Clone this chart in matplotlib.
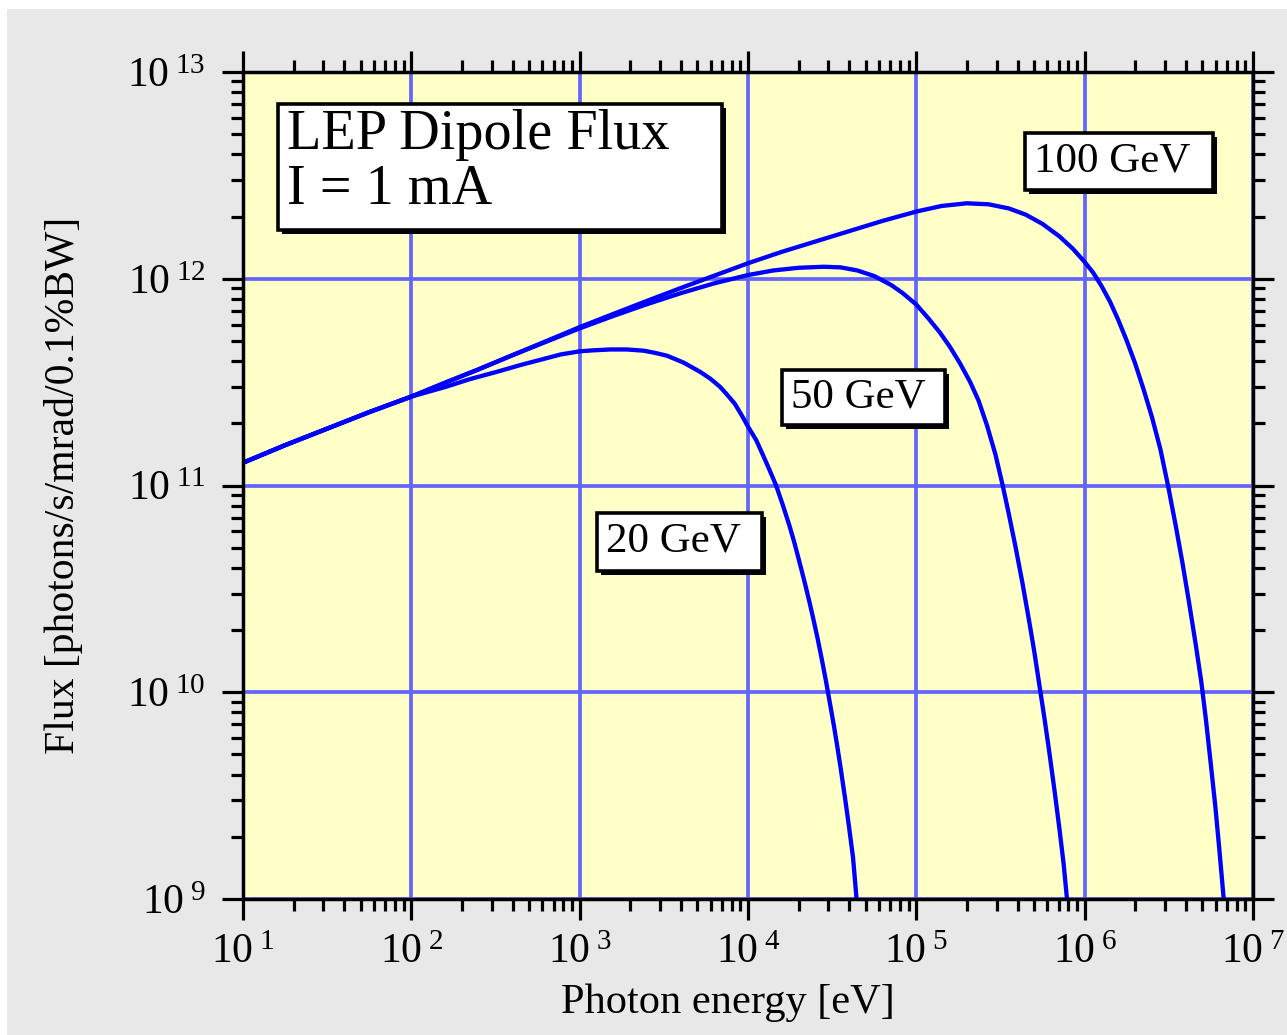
import numpy as np
import matplotlib
matplotlib.use("Agg")
import matplotlib.pyplot as plt
from matplotlib.patches import Rectangle
from matplotlib.ticker import LogLocator, FuncFormatter, NullFormatter

# values: log10(photon energy [eV]) and log10(flux)
logE_100 = [1.0, 1.25, 1.5, 1.75, 2.0, 2.2, 2.4, 2.6, 2.8, 3.0, 3.2, 3.4, 3.6, 3.8,
            4.0, 4.2, 4.4, 4.6, 4.8, 5.0, 5.15, 5.3, 5.43, 5.55, 5.65, 5.75, 5.85,
            5.93, 6.0, 6.05, 6.1, 6.15, 6.2, 6.25, 6.3, 6.35, 6.4, 6.45, 6.495,
            6.54, 6.58, 6.62, 6.66, 6.693, 6.72, 6.747, 6.776, 6.80, 6.826]
logF_100 = [11.11, 11.195, 11.275, 11.355, 11.43, 11.497, 11.562, 11.63, 11.698,
            11.766, 11.83, 11.893, 11.955, 12.015, 12.075, 12.13, 12.18, 12.23,
            12.28, 12.325, 12.352, 12.365, 12.36, 12.34, 12.31, 12.265, 12.205,
            12.145, 12.081, 12.03, 11.965, 11.89, 11.80, 11.70, 11.59, 11.465, 11.33,
            11.175, 11.0, 10.81, 10.63, 10.435, 10.23, 10.05, 9.87, 9.67, 9.45, 9.24,
            9.0]

logE_50 = [1.0, 1.25, 1.5, 1.75, 2.0, 2.2, 2.4, 2.6, 2.8, 3.0, 3.2, 3.4, 3.6, 3.8,
           4.0, 4.15, 4.3, 4.45, 4.55, 4.65, 4.75, 4.85, 4.92, 5.0, 5.07, 5.14, 5.2,
           5.26, 5.32, 5.37, 5.42, 5.47, 5.513, 5.55, 5.59, 5.63, 5.67, 5.70, 5.73,
           5.76, 5.79, 5.82, 5.85, 5.875, 5.895]
logF_50 = [11.11, 11.195, 11.275, 11.355, 11.43, 11.497, 11.562, 11.63, 11.695,
           11.76, 11.82, 11.877, 11.93, 11.978, 12.018, 12.04, 12.053, 12.058, 12.055,
           12.04, 12.013, 11.97, 11.93, 11.875, 11.81, 11.74, 11.67, 11.59, 11.50,
           11.41, 11.29, 11.15, 11.0, 10.86, 10.70, 10.53, 10.345, 10.2, 10.04,
           9.88, 9.71, 9.53, 9.34, 9.17, 9.0]

logE_20 = [1.0, 1.25, 1.5, 1.75, 2.0, 2.2, 2.35, 2.5, 2.65, 2.79, 2.888, 3.0, 3.085,
           3.183, 3.281, 3.38, 3.439, 3.518, 3.616, 3.715, 3.774, 3.833, 3.872, 3.921,
           3.961, 4.0, 4.049, 4.089, 4.128, 4.167, 4.207, 4.246, 4.276, 4.305, 4.335,
           4.364, 4.388, 4.413, 4.437, 4.463, 4.486, 4.512, 4.531, 4.551, 4.577, 4.6,
           4.624, 4.645]
logF_20 = [11.11, 11.195, 11.275, 11.355, 11.43, 11.476, 11.515, 11.548, 11.583,
           11.613, 11.634, 11.649, 11.654, 11.658, 11.658, 11.652, 11.643, 11.628,
           11.595, 11.55, 11.518, 11.478, 11.443, 11.396, 11.342, 11.285, 11.219,
           11.147, 11.075, 11.0, 10.905, 10.806, 10.722, 10.632, 10.537, 10.44,
           10.355, 10.262, 10.165, 10.055, 9.95, 9.83, 9.735, 9.63, 9.485, 9.35,
           9.2, 9.0]

labels = ["100 GeV", "50 GeV", "20 GeV"]

plt.rcParams['font.family'] = ['Liberation Serif', 'DejaVu Serif']
plt.rcParams['mathtext.fontset'] = 'custom'
plt.rcParams['mathtext.rm'] = 'Liberation Serif'
plt.rcParams['mathtext.it'] = 'Liberation Serif'

fig = plt.figure(figsize=(12.87, 10.35), dpi=100)
fig.patch.set_facecolor('white')
fig.patches.append(Rectangle((7 / 1287, 0), 1, 1 - 9 / 1035, transform=fig.transFigure,
                             fc='#e8e8e8', ec='none', zorder=-10))

ax = fig.add_axes([243 / 1287, 1 - 899 / 1035, 1010 / 1287, 827 / 1035])
ax.set_facecolor('#ffffc8')
ax.set_xscale('log')
ax.set_yscale('log')
ax.set_xlim(10, 1e7)
ax.set_ylim(1e9, 1e13)

ax.grid(True, which='major', color='#6464ff', lw=2.7, zorder=1)
ax.set_axisbelow(True)

for le, lf in [(logE_100, logF_100), (logE_50, logF_50), (logE_20, logF_20)]:
    ax.plot(10 ** np.array(le), 10 ** np.array(lf), color='#0000ff', lw=3.1,
            solid_joinstyle='round', solid_capstyle='butt', zorder=3)

for s in ax.spines.values():
    s.set_linewidth(2.5)
    s.set_zorder(5)

fmt = FuncFormatter(lambda v, p: r"$10^{\;%d}$" % int(round(np.log10(v))))
for axis in (ax.xaxis, ax.yaxis):
    axis.set_major_locator(LogLocator(base=10, numticks=20))
    axis.set_minor_locator(LogLocator(base=10, subs=np.arange(2, 10), numticks=20))
    axis.set_major_formatter(fmt)
    axis.set_minor_formatter(NullFormatter())
ax.tick_params(which='both', direction='out', top=True, right=True, width=2.3,
               color='black', labelsize=30)
ax.tick_params(which='major', length=15)
ax.tick_params(which='minor', length=8.5)
ax.tick_params(axis='x', which='major', pad=10)
ax.tick_params(axis='y', which='major', pad=12)

ax.set_xlabel("Photon energy [eV]", fontsize=30.5, va='center')
ax.xaxis.set_label_coords(0.48, -0.125)
ax.set_ylabel("Flux [photons/s/mrad/0.1%BW]", fontsize=30, va='center')
ax.yaxis.set_label_coords(-0.178, 0.5)


def box(x0, y0, x1, y1):
    dx, dy = 4 / 1010, 4 / 827
    ax.add_patch(Rectangle((x0 + dx, y0 - dy), x1 - x0, y1 - y0, transform=ax.transAxes,
                           fc='black', ec='black', lw=0, zorder=6))
    ax.add_patch(Rectangle((x0, y0), x1 - x0, y1 - y0, transform=ax.transAxes,
                           fc='white', ec='black', lw=2.6, zorder=7))


box(0.0347, 0.809, 0.474, 0.961)
ax.text(0.0436, 0.924, "LEP Dipole Flux", transform=ax.transAxes, fontsize=40.5,
        va='center', ha='left', zorder=8)
ax.text(0.0436, 0.857, "I = 1 mA", transform=ax.transAxes, fontsize=40.5,
        va='center', ha='left', zorder=8)

label_pos = [(0.774, 0.857, 0.960, 0.926), (0.534, 0.573, 0.695, 0.640),
             (0.350, 0.397, 0.514, 0.467)]
for lab, (x0, y0, x1, y1) in zip(labels, label_pos):
    box(x0, y0, x1, y1)
    ax.text(x0 + 0.009, (y0 + y1) / 2, lab, transform=ax.transAxes, fontsize=31,
            va='center', ha='left', zorder=8)

fig.savefig("out.png", dpi=100)
